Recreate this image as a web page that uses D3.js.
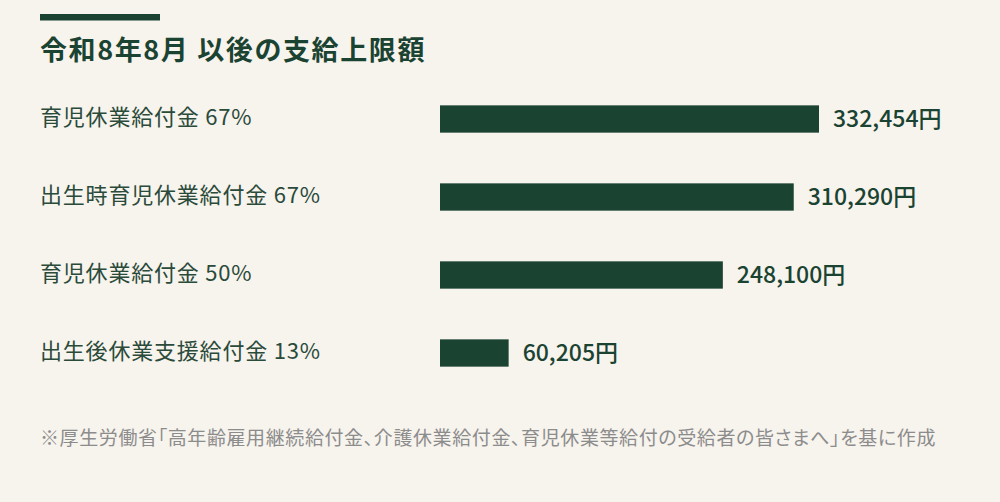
<!DOCTYPE html>
<html lang="ja">
<head>
<meta charset="utf-8">
<script src="https://cdn.jsdelivr.net/npm/d3@7/dist/d3.min.js"></script>
<style>
  html, body { margin: 0; padding: 0; background: #f7f3ed; }
  svg { display: block; font-family: "Noto Sans CJK JP", "Noto Sans", sans-serif; }
</style>
</head>
<body>
<svg id="chart" width="1000" height="502"></svg>
<script>
// データ
const labels = ['育児休業給付金 67%', '出生時育児休業給付金 67%', '育児休業給付金 50%', '出生後休業支援給付金 13%'];
const amounts = [332454, 310290, 248100, 60205];
const title = '令和8年8月 以後の支給上限額';
const source = '※厚生労働省「高年齢雇用継続給付金、介護休業給付金、育児休業等給付の受給者の皆さまへ」を基に作成';

const W = 1000, H = 502;
const dark = '#1b4332';

const svg = d3.select('#chart');
svg.append('rect').attr('width', W).attr('height', H).attr('fill', '#f7f3ed');

// タイトル上のライン
svg.append('rect')
  .attr('x', 40).attr('y', 14)
  .attr('width', 120).attr('height', 6.5)
  .attr('fill', dark);

svg.append('text')
  .attr('x', 40).attr('y', 60)
  .attr('font-size', 27)
  .attr('font-weight', 700)
  .attr('letter-spacing', 1.6)
  .attr('fill', dark)
  .text(title);

// スケール
const x = d3.scaleLinear()
  .domain([0, d3.max(amounts)])
  .range([440, 819]);

const y = d3.scaleBand()
  .domain(d3.range(labels.length))
  .range([80, 392])
  .paddingInner(0.65)
  .paddingOuter(0.325);

const rows = svg.append('g').selectAll('g')
  .data(labels)
  .join('g');

rows.append('text')
  .attr('x', 40)
  .attr('y', (d, i) => y(i) + y.bandwidth() / 2)
  .attr('dy', '0.25em')
  .attr('font-size', 22)
  .attr('letter-spacing', 0.8)
  .attr('fill', '#2a4a3a')
  .text(d => d);

rows.append('rect')
  .attr('x', x(0))
  .attr('y', (d, i) => y(i))
  .attr('width', (d, i) => x(amounts[i]) - x(0))
  .attr('height', y.bandwidth())
  .attr('fill', dark);

rows.append('text')
  .attr('x', (d, i) => x(amounts[i]) + 14)
  .attr('y', (d, i) => y(i) + y.bandwidth() / 2)
  .attr('dy', '0.36em')
  .attr('font-size', 23)
  .attr('font-weight', 500)
  .attr('fill', dark)
  .text((d, i) => d3.format(',')(amounts[i]) + '円');

// 出典
svg.append('text')
  .attr('x', 40).attr('y', 445)
  .attr('font-size', 19)
  .attr('letter-spacing', 0.6)
  .attr('fill', '#8c8c8c')
  .style('font-feature-settings', '"palt"')
  .text(source);
</script>
</body>
</html>
